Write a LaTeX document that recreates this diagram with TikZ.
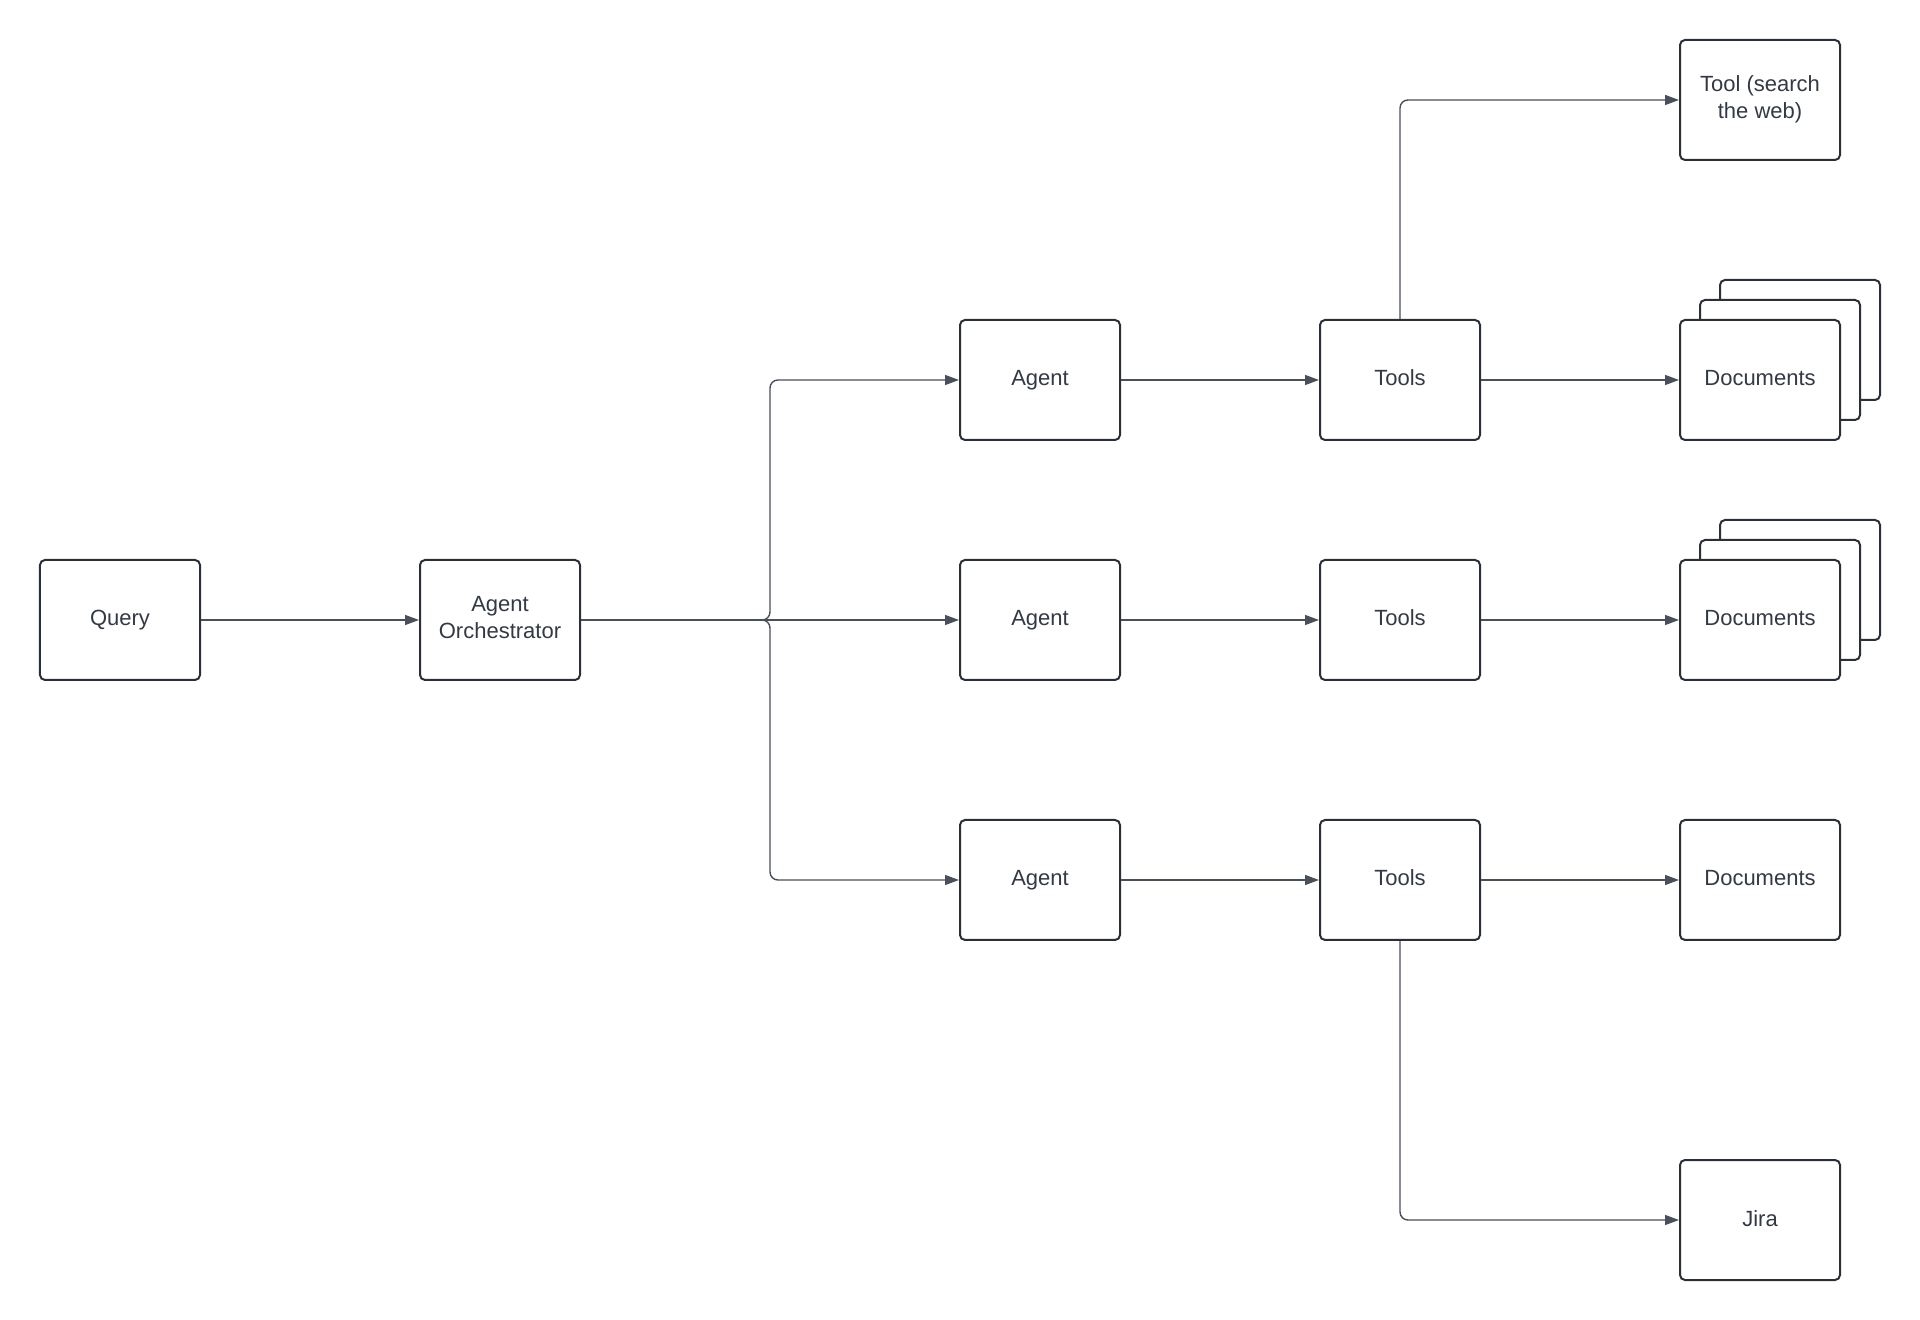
\documentclass[tikz,border=0pt]{standalone}
\usepackage{fontspec}
\setmainfont{Liberation Sans}
\usepackage{tikz}
\usetikzlibrary{positioning,arrows.meta,shadows}

\definecolor{boxline}{HTML}{2B2F36}
\definecolor{wirecol}{HTML}{4A5059}
\definecolor{inktext}{HTML}{333A45}

\begin{document}
\begin{tikzpicture}[node distance=180pt,on grid,>={Triangle[length=7pt,width=5pt]}]
  \tikzstyle{box}=[rectangle,rounded corners=2.5pt,line width=1pt,draw=boxline,fill=white,
                   minimum width=80pt,minimum height=60pt,align=center,text=inktext,
                   text height=0.8em,text depth=0.2em,
                   font=\fontsize{11pt}{13.5pt}\selectfont]
  \tikzstyle{twoline}=[box,text height=,text depth=0.27em]
  \tikzstyle{stack}=[box,double copy shadow={shadow xshift=10pt,shadow yshift=10pt,
                     fill=white,draw=boxline,line width=1pt}]
  \tikzstyle{wire}=[->,line width=0.7pt,draw=wirecol,rounded corners=4pt]

  \node[box] (query) {Query};
  \node[twoline] (orch) [right=190pt of query] {Agent\\Orchestrator};
  \coordinate[right=135pt of orch] (fork);

  \node[box] (agent2) [right=270pt of orch] {Agent};
  \node[box] (agent1) [above=120pt of agent2] {Agent};
  \node[box] (agent3) [below=130pt of agent2] {Agent};

  \node[box] (tools1) [right=of agent1] {Tools};
  \node[box] (tools2) [right=of agent2] {Tools};
  \node[box] (tools3) [right=of agent3] {Tools};

  \node[stack] (docs1) [right=of tools1] {Documents};
  \node[stack] (docs2) [right=of tools2] {Documents};
  \node[box] (docs3) [right=of tools3] {Documents};
  \node[twoline] (web) [above=140pt of docs1] {Tool (search\\the web)};
  \node[box] (jira) [below=170pt of docs3] {Jira};

  \useasboundingbox (query.center) ++(-60pt,310pt) rectangle ++(960pt,-660pt);

  \draw[wire] (query) -- (orch);
  \draw[wire] (orch.east) -- (fork) |- (agent1);
  \draw[wire] (orch) -- (agent2);
  \draw[wire] (orch.east) -- (fork) |- (agent3);

  \draw[wire] (agent1) -- (tools1);
  \draw[wire] (agent2) -- (tools2);
  \draw[wire] (agent3) -- (tools3);

  \draw[wire] (tools1) -- (docs1);
  \draw[wire] (tools2) -- (docs2);
  \draw[wire] (tools3) -- (docs3);
  \draw[wire] (tools1) |- (web);
  \draw[wire] (tools3) |- (jira);
\end{tikzpicture}
\end{document}
